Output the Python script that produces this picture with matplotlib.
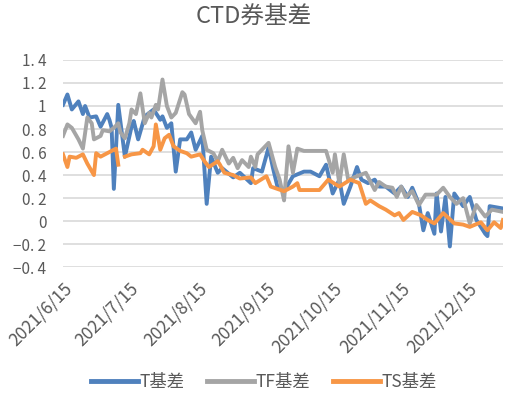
import numpy as np
import pandas as pd
import matplotlib
matplotlib.use('Agg')
import matplotlib.pyplot as plt

plt.rcParams['font.family'] = ['Noto Sans CJK SC', 'DejaVu Sans']
plt.rcParams['axes.unicode_minus'] = False

# T基差
t_dates = ['6-15', '6-17', '6-19', '6-22', '6-24', '6-25', '6-27', '6-30', '7-2', '7-5',
           '7-6', '7-7', '7-8', '7-10', '7-13', '7-16', '7-17', '7-19', '7-22', '7-26',
           '7-27', '7-29', '7-30', '8-1', '8-3', '8-5', '8-7', '8-10', '8-12', '8-14',
           '8-17', '8-19', '8-21', '8-24', '8-26', '8-31', '9-3', '9-8', '9-9', '9-13',
           '9-16', '9-18', '9-20', '9-23', '9-27', '10-2', '10-5', '10-9', '10-12', '10-15',
           '10-18', '10-20', '10-23', '10-26', '10-28', '10-31', '11-3', '11-5', '11-8', '11-12',
           '11-15', '11-18', '11-20', '11-23', '11-25', '11-27', '11-30', '12-1', '12-3', '12-5',
           '12-7', '12-9', '12-13', '12-16', '12-19', '12-23', '12-24', '12-25', '12-31']
t_vals = [1.01, 1.10, 0.97, 1.04, 0.93, 1.00, 0.90, 0.91, 0.82, 0.93,
          0.88, 0.81, 0.28, 1.01, 0.56, 0.82, 0.87, 0.71, 0.91, 0.97,
          0.94, 0.88, 0.91, 0.81, 0.85, 0.43, 0.71, 0.71, 0.77, 0.62,
          0.74, 0.15, 0.56, 0.42, 0.46, 0.38, 0.42, 0.33, 0.46, 0.43,
          0.64, 0.46, 0.30, 0.26, 0.39, 0.43, 0.43, 0.39, 0.49, 0.24,
          0.36, 0.15, 0.30, 0.47, 0.36, 0.33, 0.36, 0.30, 0.30, 0.24,
          0.30, 0.21, 0.29, 0.15, -0.08, 0.07, -0.11, 0.24, -0.09, 0.21,
          -0.22, 0.24, 0.13, 0.21, 0.01, -0.11, -0.13, 0.13, 0.11]

# TF基差
tf_dates = ['6-15', '6-17', '6-19', '6-22', '6-24', '6-26', '6-28', '6-29', '7-2', '7-3',
            '7-6', '7-8', '7-10', '7-11', '7-13', '7-15', '7-16', '7-18', '7-20', '7-22',
            '7-24', '7-25', '7-27', '7-28', '7-30', '8-1', '8-3', '8-5', '8-8', '8-9',
            '8-11', '8-14', '8-16', '8-17', '8-19', '8-22', '8-24', '8-26', '8-29', '8-31',
            '9-2', '9-4', '9-7', '9-8', '9-10', '9-11', '9-16', '9-19', '9-21', '9-23',
            '9-25', '9-27', '9-29', '10-2', '10-12', '10-15', '10-16', '10-18', '10-20', '10-22',
            '10-26', '10-30', '11-3', '11-5', '11-8', '11-11', '11-13', '11-15', '11-17', '11-20',
            '11-23', '11-26', '12-1', '12-4', '12-7', '12-10', '12-13', '12-16', '12-19', '12-23',
            '12-26', '12-31']
tf_vals = [0.74, 0.84, 0.81, 0.71, 0.63, 0.90, 0.85, 0.71, 0.74, 0.79,
           0.78, 0.81, 0.85, 0.77, 0.72, 0.85, 0.97, 0.93, 1.11, 0.85,
           0.94, 0.90, 1.01, 0.97, 1.23, 1.00, 0.90, 0.94, 1.12, 1.10,
           0.93, 0.85, 0.95, 0.79, 0.62, 0.59, 0.52, 0.62, 0.50, 0.55,
           0.46, 0.53, 0.47, 0.56, 0.47, 0.58, 0.68, 0.47, 0.36, 0.18,
           0.65, 0.42, 0.63, 0.61, 0.61, 0.42, 0.58, 0.33, 0.58, 0.36,
           0.39, 0.42, 0.27, 0.34, 0.30, 0.29, 0.21, 0.30, 0.21, 0.26,
           0.14, 0.23, 0.23, 0.29, 0.21, 0.15, 0.20, -0.02, 0.14, 0.04,
           0.10, 0.08]

# TS基差
ts_dates = ['6-15', '6-17', '6-18', '6-21', '6-24', '6-26', '6-29', '6-30', '7-2', '7-5',
            '7-8', '7-9', '7-10', '7-11', '7-13', '7-16', '7-20', '7-21', '7-24', '7-26',
            '7-27', '7-29', '7-31', '8-2', '8-4', '8-7', '8-10', '8-12', '8-16', '8-18',
            '8-20', '8-24', '8-25', '8-27', '8-31', '9-3', '9-8', '9-10', '9-15', '9-17',
            '9-23', '9-27', '9-29', '9-30', '10-9', '10-13', '10-18', '10-23', '10-27', '10-30',
            '11-1', '11-5', '11-8', '11-12', '11-14', '11-16', '11-20', '11-24', '11-27', '11-30',
            '12-4', '12-9', '12-13', '12-16', '12-21', '12-24', '12-27', '12-30', '12-31']
ts_vals = [0.58, 0.47, 0.56, 0.55, 0.58, 0.50, 0.40, 0.59, 0.56, 0.59,
           0.62, 0.63, 0.49, np.nan, 0.56, 0.58, 0.59, 0.62, 0.58, 0.65,
           0.84, 0.62, 0.72, 0.75, 0.65, 0.61, 0.59, 0.56, 0.58, 0.52,
           0.47, 0.52, 0.49, 0.42, 0.40, 0.37, 0.38, 0.33, 0.39, 0.30,
           0.26, 0.30, 0.33, 0.27, 0.27, 0.36, 0.30, 0.36, 0.33, 0.15,
           0.18, 0.13, 0.10, 0.05, 0.07, 0.01, 0.08, 0.05, 0.01, -0.02,
           0.07, -0.02, -0.03, -0.05, -0.01, -0.08, -0.01, -0.06, 0.01]

tick_dates = ['6-15', '7-15', '8-15', '9-15', '10-15', '11-15', '12-15']
y_ticks = [-0.4, -0.2, 0, 0.2, 0.4, 0.6, 0.8, 1.0, 1.2, 1.4]
y_labels = ['−0. 4', '−0. 2', '0', '0. 2', '0. 4', '0. 6', '0. 8', '1', '1. 2', '1. 4']


def to_dt(lst):
    return pd.to_datetime(['2021-' + s for s in lst])


fig = plt.figure(figsize=(5.08, 3.97), dpi=100)
ax = fig.add_axes([0.124, 0.327, 0.866, 0.522])

ax.plot(to_dt(t_dates), t_vals, color='#4F81BD', lw=2.8, label='T基差', solid_joinstyle='round')
ax.plot(to_dt(tf_dates), tf_vals, color='#A5A5A5', lw=2.8, label='TF基差', solid_joinstyle='round')
ax.plot(to_dt(ts_dates), ts_vals, color='#F79646', lw=2.8, label='TS基差', solid_joinstyle='round')

ax.set_xlim(pd.Timestamp('2021-06-15'), pd.Timestamp('2021-12-31'))
ax.set_ylim(-0.4, 1.4)
ax.set_yticks(y_ticks)
ax.set_yticklabels(y_labels)
ax.set_xticks(to_dt(tick_dates))
ax.set_xticklabels(['2021/' + s.replace('-', '/') for s in tick_dates],
                   rotation=45, ha='right', rotation_mode='anchor')

ax.grid(axis='y', color='#D9D9D9', lw=1.2)
ax.set_axisbelow(True)
for s in ax.spines.values():
    s.set_visible(False)
ax.tick_params(length=0, labelcolor='#595959')
ax.tick_params(axis='x', pad=9, labelsize=12.5)
ax.tick_params(axis='y', pad=12, labelsize=11)

fig.suptitle('CTD券基差', x=0.5, y=0.985, fontsize=17, color='#595959')

leg = fig.legend(loc='lower center', bbox_to_anchor=(0.52, -0.025), ncol=3, frameon=False,
                 fontsize=12.5, handlelength=2.7, handletextpad=0.1, columnspacing=1.3,
                 labelcolor='#595959')
for h in leg.get_lines():
    h.set_linewidth(3.5)

fig.savefig('out.png', dpi=100)
